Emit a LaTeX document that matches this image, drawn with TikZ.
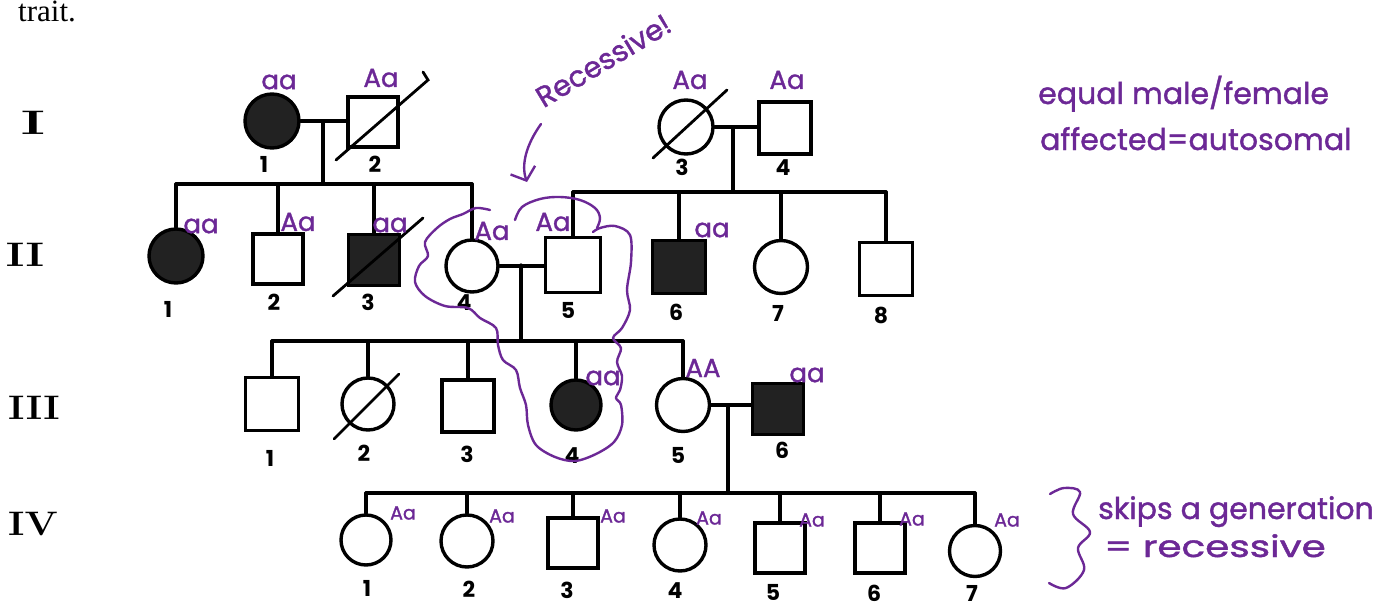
\documentclass[tikz,border=0pt]{standalone}
\usepackage{fontspec}
\newfontfamily\hand{Poppins}
\newfontfamily\marker[FakeBold=1.3]{Poppins}
\newfontfamily\printserif{Liberation Serif}
\usetikzlibrary{calc,arrows.meta}
\definecolor{ink}{RGB}{108,40,150}
\definecolor{shade}{RGB}{34,34,34}
\begin{document}
\begin{tikzpicture}[x=1pt,y=-1pt,
  ln/.style={line width=3.2pt,black,line cap=round},
  fem/.style={circle,draw,line width=3.4pt,minimum size=#1,inner sep=0pt},
  fem/.default=53pt,
  mal/.style={rectangle,draw,line width=3.4pt,minimum size=#1,inner sep=0pt},
  mal/.default=51pt,
  aff/.style={fill=shade},
  slash/.style={line width=2.8pt,black,line cap=round},
  geno/.style={text=ink,font=\marker\fontsize{26}{26}\selectfont,inner sep=0pt},
  genos/.style={text=ink,font=\marker\fontsize{19}{19}\selectfont,inner sep=0pt},
  num/.style={font=\hand\bfseries\fontsize{22}{22}\selectfont,inner sep=0pt},
  gen/.style={font=\bfseries\fontsize{34}{34}\selectfont,inner sep=0pt},
  note/.style={text=ink,font=\marker\fontsize{30}{30}\selectfont,inner sep=0pt,anchor=base west},
  scrib/.style={draw=ink,line width=2.4pt,line cap=round,line join=round}]
\useasboundingbox (0,0) rectangle (1381,607);
\fill[white] (0,0) rectangle (1381,607);

% text left over from the worksheet
\node[font=\printserif\fontsize{31}{31}\selectfont,anchor=base west,inner sep=0pt] (trait) at (18,22) {trait.};

% generation numerals
\node[gen] (gI)   at (33,123) {\scalebox{1.7}[1]{I}};
\node[gen] (gII)  at (25,255) {\scalebox{1.3}[1]{II}};
\node[gen] (gIII) at (34,408) {\scalebox{1.15}[1]{III}};
\node[gen] (gIV)  at (33,524) {\scalebox{1.15}[1]{IV}};

% ---------- generation I ----------
\node[fem=54pt,aff] (I1) at (272,121) {};
\node[mal=50pt]     (I2) at (373,122) {};
\node[fem=54pt]     (I3) at (686,127) {};
\node[mal=52pt]     (I4) at (785,128) {};

% ---------- generation II ----------
\node[fem=54pt,aff] (II1) at (176,256) {};
\node[mal=50pt]     (II2) at (278,259) {};
\node[mal=51pt,aff] (II3) at (374,260) {};
\node[fem=52pt]     (II4) at (472,266) {};
\node[mal=55pt]     (II5) at (573,265) {};
\node[mal=53pt,aff] (II6) at (679,267) {};
\node[fem=53pt]     (II7) at (781,267) {};
\node[mal=53pt]     (II8) at (886,269) {};

% ---------- generation III ----------
\node[mal=53pt]     (III1) at (272,404) {};
\node[fem=52pt]     (III2) at (368,404) {};
\node[mal=52pt]     (III3) at (468,406) {};
\node[fem=50pt,aff] (III4) at (576,405) {};
\node[fem=53pt]     (III5) at (683,405) {};
\node[mal=51pt,aff] (III6) at (778,409) {};

% ---------- generation IV ----------
\node[fem=50pt] (IV1) at (366,540) {};
\node[fem=52pt] (IV2) at (467,541) {};
\node[mal=50pt] (IV3) at (573,543) {};
\node[fem=52pt] (IV4) at (680,545) {};
\node[mal=50pt] (IV5) at (780,548) {};
\node[mal=50pt] (IV6) at (880,548) {};
\node[fem=51pt] (IV7) at (975,551) {};

% couples, descent lines and sibships
\coordinate (m1) at (323,122);
\coordinate (m2) at (733,128);
\coordinate (m3) at (521,265);
\coordinate (m4) at (728,405);
\coordinate (s2a) at (0,184);
\coordinate (s2b) at (0,192);
\coordinate (s3) at (0,341);
\coordinate (s4) at (0,493);

\draw[ln] (I1.east) -- (I1.east -| I2.west);
\draw[ln] (I3.east) -- (I3.east -| I4.west);
\draw[ln] (II4.east) -- (II4.east -| II5.west);
\draw[ln] (III5.east) -- (III5.east -| III6.west);

\draw[ln] (m1) -- (m1 |- s2a);
\draw[ln] (m2) -- (m2 |- s2b);
\draw[ln] (m3) -- (m3 |- s3);
\draw[ln] (m4) -- (m4 |- s4);

\draw[ln] (II1.north |- s2a) -- (II4.north |- s2a);
\foreach \k in {II1,II2,II3,II4} \draw[ln] (\k.north) -- (\k.north |- s2a);
\draw[ln] (II5.north |- s2b) -- (II8.north |- s2b);
\foreach \k in {II5,II6,II7,II8} \draw[ln] (\k.north) -- (\k.north |- s2b);
\draw[ln] (III1.north |- s3) -- (III5.north |- s3);
\foreach \k in {III1,III2,III3,III4,III5} \draw[ln] (\k.north) -- (\k.north |- s3);
\draw[ln] (IV1.north |- s4) -- (IV7.north |- s4);
\foreach \k in {IV1,IV2,IV3,IV4,IV5,IV6,IV7} \draw[ln] (\k.north) -- (\k.north |- s4);

% deceased
\draw[slash] ($(I2.center)+(-37,38)$) -- ($(I2.center)+(55,-42)$) -- ($(I2.center)+(50,-50)$);
\draw[slash] ($(I3.center)+(-33,31)$) -- ($(I3.center)+(41,-37)$);
\draw[slash] ($(II3.center)+(-41,36)$) -- ($(II3.center)+(49,-42)$);
\draw[slash] ($(III2.center)+(-34,35)$) -- ($(III2.center)+(31,-30)$);

% individual numbers
\node[num] (nI1) at (264,164) {1};
\node[num] (nI2) at (375,164) {2};
\node[num] (nI3) at (682,167) {3};
\node[num] (nI4) at (783,168) {4};
\node[num] (nII1) at (168,309) {1};
\node[num] (nII2) at (274,302) {2};
\node[num] (nII3) at (368,302) {3};
\node[num] (nII4) at (464,303) {4};
\node[num] (nII5) at (568,310) {5};
\node[num] (nII6) at (676,312) {6};
\node[num] (nII7) at (778,313) {7};
\node[num] (nII8) at (881,315) {8};
\node[num] (nIII1) at (270,458) {1};
\node[num] (nIII2) at (364,453) {2};
\node[num] (nIII3) at (467,454) {3};
\node[num] (nIII4) at (572,456) {4};
\node[num] (nIII5) at (678,455) {5};
\node[num] (nIII6) at (782,450) {6};
\node[num] (nIV1) at (367,588) {1};
\node[num] (nIV2) at (469,589) {2};
\node[num] (nIV3) at (567,590) {3};
\node[num] (nIV4) at (675,591) {4};
\node[num] (nIV5) at (773,592) {5};
\node[num] (nIV6) at (874,593) {6};
\node[num] (nIV7) at (972,593) {7};

% genotypes
\node[geno] (gtI1) at (279,82) {aa};
\node[geno] (gtI2) at (381,78) {Aa};
\node[geno] (gtI3) at (690,80) {Aa};
\node[geno] (gtI4) at (787,80) {Aa};
\node[geno] (gtII1) at (201,226) {aa};
\node[geno] (gtII2) at (298,222) {Aa};
\node[geno] (gtII3) at (390,225) {aa};
\node[geno] (gtII4) at (492,231) {Aa};
\node[geno] (gtII5) at (553,222) {Aa};
\node[geno] (gtII6) at (712,230) {aa};
\node[geno] (gtIII4) at (603,378) {aa};
\node[geno] (gtIII5) at (703,368) {AA};
\node[geno] (gtIII6) at (807,375) {aa};
\node[genos] (gtIV1) at (403,513) {Aa};
\node[genos] (gtIV2) at (502,516) {Aa};
\node[genos] (gtIV3) at (613,516) {Aa};
\node[genos] (gtIV4) at (709,518) {Aa};
\node[genos] (gtIV5) at (812,520) {Aa};
\node[genos] (gtIV6) at (912,519) {Aa};
\node[genos] (gtIV7) at (1007,520) {Aa};

% margin notes
\node[text=ink,font=\marker\fontsize{29}{29}\selectfont,inner sep=0pt,rotate=31] (rec) at (603,60) {Recessive!};
\coordinate (recEnd) at (527,182);
\draw[scrib,-{Straight Barb[length=11pt,width=26pt]}] (541,124) .. controls (526,145) and (521,165) .. (recEnd);

\node[note] (eq1) at (1038,104) {equal male/female};
\node[note] (eq2) at (1040,150) {affected=autosomal};
\node[note] (sk1) at (1098,519) {skips a generation};
\node[note] (sk2) at (1104,557) {\scalebox{1.3}[1]{= recessive}};
\draw[scrib] plot[smooth,tension=0.6] coordinates {(1050,494) (1064,488) (1080,492) (1073,514) (1090,532) (1078,548) (1084,570) (1066,588) (1049,583)};

% circled couple and affected daughter
\draw[scrib] plot[smooth,tension=0.55] coordinates {
  (490,210) (476,208) (463,214) (450,219) (437,228) (425,242) (428,256) (419,266)
  (415,282) (425,296) (445,306) (468,308) (480,318) (496,328) (498,345) (503,360)
  (516,370) (520,388) (526,405) (528,425) (536,445) (555,457) (575,461) (596,454)
  (614,442) (622,425) (621,405) (616,398) (620,390) (622,376) (617,362) (621,348)
  (613,338) (622,328) (630,310) (627,290) (631,262) (630,235) (615,226) (600,228) (593,232)};
\draw[scrib] plot[smooth,tension=0.6] coordinates {
  (515,220) (522,207) (540,199) (560,197) (580,200) (595,208) (600,218) (597,228)};
\end{tikzpicture}
\end{document}
